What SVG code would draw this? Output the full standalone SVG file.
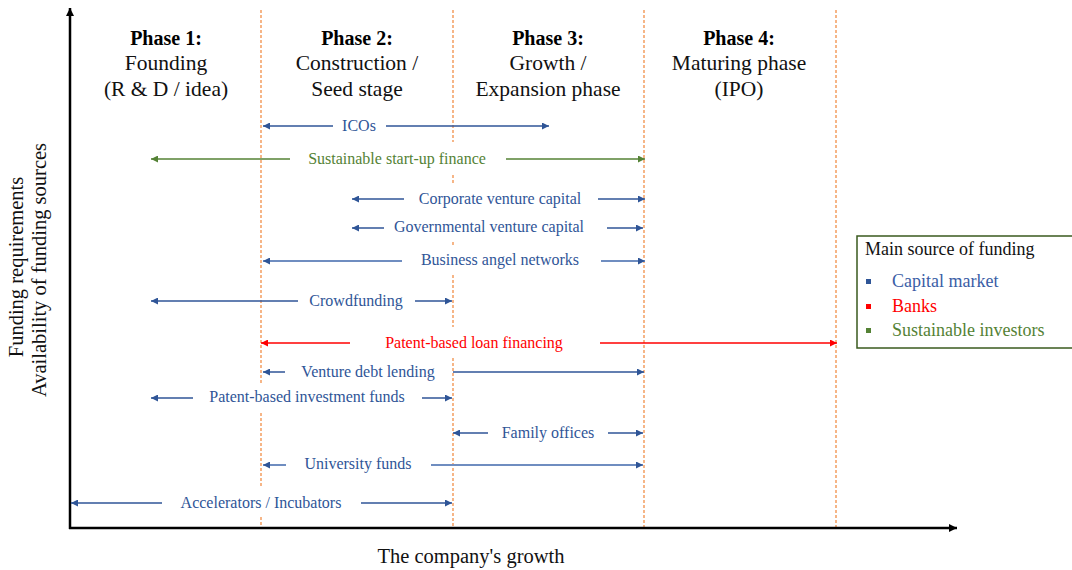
<svg xmlns="http://www.w3.org/2000/svg" width="1072" height="570" viewBox="0 0 1072 570">
<style>
text{font-family:"Liberation Serif","Times New Roman",serif;}
.ph{font-size:20px;font-weight:bold;fill:#000;text-anchor:middle;}
.ps{font-size:21.5px;fill:#111;text-anchor:middle;}
.lb{font-size:16px;fill:#2F5597;text-anchor:middle;}
.lg{font-size:16px;fill:#548235;text-anchor:middle;}
.lr{font-size:16px;fill:#FF0000;text-anchor:middle;}
.ax{font-size:20.5px;fill:#111;}
.dash{stroke:#F4A46A;stroke-width:1.6;stroke-dasharray:3 2;fill:none;}
.ab{stroke:#2F5597;stroke-width:1.5;fill:none;marker-end:url(#mb);}
.al{stroke:#6F8DC0;stroke-width:2;fill:none;marker-end:url(#mb);}
.ag{stroke:#548235;stroke-width:1.5;fill:none;marker-end:url(#mg);}
.ar{stroke:#FF0000;stroke-width:1.5;fill:none;marker-end:url(#mr);}
.axis{stroke:#000;stroke-width:2.5;fill:none;marker-end:url(#mk);}
.leg{font-size:18px;}
</style>
<defs>
<marker id="mb" viewBox="0 0 10 10" refX="10" refY="5" markerWidth="9" markerHeight="7" markerUnits="userSpaceOnUse" orient="auto"><path d="M0,0 L10,5 L0,10 z" fill="#2F5597"/></marker>
<marker id="mg" viewBox="0 0 10 10" refX="10" refY="5" markerWidth="9" markerHeight="7" markerUnits="userSpaceOnUse" orient="auto"><path d="M0,0 L10,5 L0,10 z" fill="#548235"/></marker>
<marker id="mr" viewBox="0 0 10 10" refX="10" refY="5" markerWidth="9" markerHeight="7" markerUnits="userSpaceOnUse" orient="auto"><path d="M0,0 L10,5 L0,10 z" fill="#FF0000"/></marker>
<marker id="mk" viewBox="0 0 10 10" refX="10" refY="5" markerWidth="10" markerHeight="8" markerUnits="userSpaceOnUse" orient="auto"><path d="M0,0 L10,5 L0,10 z" fill="#000"/></marker>
</defs>
<rect width="1072" height="570" fill="#fff"/>

<g id="phase-lines">
<path class="dash" d="M261,10 V383 M261,413 V487 M261,517 V528"/>
<path class="dash" d="M453,10 V142 M453,175 V183 M453,242 V247 M453,275 V327 M453,358 V528"/>
<path class="dash" d="M644,10 V528"/>
<path class="dash" d="M836,10 V528"/>
</g>

<g id="axes">
<line class="axis" x1="70" y1="529" x2="70" y2="8"/>
<line class="axis" x1="69" y1="528" x2="957" y2="528"/>
<text class="ax" x="471" y="563" text-anchor="middle">The company's growth</text>
<text class="ax" transform="translate(23,267) rotate(-90)" text-anchor="middle">Funding requirements</text>
<text class="ax" transform="translate(46,270) rotate(-90)" text-anchor="middle">Availability of funding sources</text>
</g>

<g id="phase1"><text class="ph" x="166" y="45">Phase 1:</text><text class="ps" x="166" y="70">Founding</text><text class="ps" x="166" y="96">(R &amp; D / idea)</text></g>
<g id="phase2"><text class="ph" x="357" y="45">Phase 2:</text><text class="ps" x="357" y="70">Construction /</text><text class="ps" x="357" y="96">Seed stage</text></g>
<g id="phase3"><text class="ph" x="548" y="45">Phase 3:</text><text class="ps" x="548" y="70">Growth /</text><text class="ps" x="548" y="96">Expansion phase</text></g>
<g id="phase4"><text class="ph" x="739" y="45">Phase 4:</text><text class="ps" x="739" y="70">Maturing phase</text><text class="ps" x="739" y="96">(IPO)</text></g>

<g id="connectors">
<line class="ab" x1="333" y1="126" x2="263" y2="126"/><line class="ab" x1="386" y1="126" x2="549" y2="126"/>
<line class="ag" x1="290" y1="159" x2="151" y2="159"/><line class="ag" x1="506" y1="159" x2="645" y2="159"/>
<line class="ab" x1="404" y1="199" x2="352" y2="199"/><line class="ab" x1="598" y1="199" x2="645" y2="199"/>
<line class="ab" x1="384" y1="228" x2="352" y2="228"/><line class="ab" x1="607" y1="228" x2="643" y2="228"/>
<line class="al" x1="402" y1="261" x2="263" y2="261"/><line class="al" x1="601" y1="261" x2="645" y2="261"/>
<line class="ab" x1="298" y1="301" x2="151" y2="301"/><line class="ab" x1="415" y1="301" x2="452" y2="301"/>
<line class="ar" x1="350" y1="343" x2="261" y2="343"/><line class="ar" x1="600" y1="343" x2="837" y2="343"/>
<line class="ab" x1="285" y1="372" x2="263" y2="372"/><line class="ab" x1="453" y1="372" x2="644" y2="372"/>
<line class="ab" x1="193" y1="398" x2="151" y2="398"/><line class="ab" x1="422" y1="398" x2="452" y2="398"/>
<line class="ab" x1="488" y1="433" x2="453" y2="433"/><line class="ab" x1="608" y1="433" x2="643" y2="433"/>
<line class="al" x1="286" y1="465" x2="263" y2="465"/><line class="al" x1="431" y1="465" x2="643" y2="465"/>
<line class="ab" x1="162" y1="503" x2="71" y2="503"/><line class="ab" x1="361" y1="503" x2="452" y2="503"/>
</g>

<g id="icos"><text class="lb" x="359" y="131">ICOs</text></g>
<g id="sustainable"><text class="lg" x="397" y="164">Sustainable start-up finance</text></g>
<g id="cvc"><text class="lb" x="500" y="204">Corporate venture capital</text></g>
<g id="gvc"><text class="lb" x="489" y="232">Governmental venture capital</text></g>
<g id="ban"><text class="lb" x="500" y="265">Business angel networks</text></g>
<g id="crowd"><text class="lb" x="356" y="306">Crowdfunding</text></g>
<g id="pblf"><text class="lr" x="474" y="348">Patent-based loan financing</text></g>
<g id="vdl"><text class="lb" x="368" y="377">Venture debt lending</text></g>
<g id="pbif"><text class="lb" x="307" y="402">Patent-based investment funds</text></g>
<g id="family"><text class="lb" x="548" y="438">Family offices</text></g>
<g id="univ"><text class="lb" x="358" y="469">University funds</text></g>
<g id="accel"><text class="lb" x="261" y="508">Accelerators / Incubators</text></g>

<g id="legend">
<rect x="857" y="236" width="230" height="112" fill="#fff" stroke="#3A5A1E" stroke-width="1.5"/>
<text class="leg" x="865" y="255" fill="#111">Main source of funding</text>
<rect x="866" y="279" width="5" height="5" fill="#2F5597"/>
<text class="leg" x="892" y="287" fill="#3B5EA6">Capital market</text>
<rect x="866" y="304" width="5" height="5" fill="#FF0000"/>
<text class="leg" x="892" y="312" fill="#FF0000">Banks</text>
<rect x="866" y="328" width="5" height="5" fill="#548235"/>
<text class="leg" x="892" y="336" fill="#548235">Sustainable investors</text>
</g>
</svg>
